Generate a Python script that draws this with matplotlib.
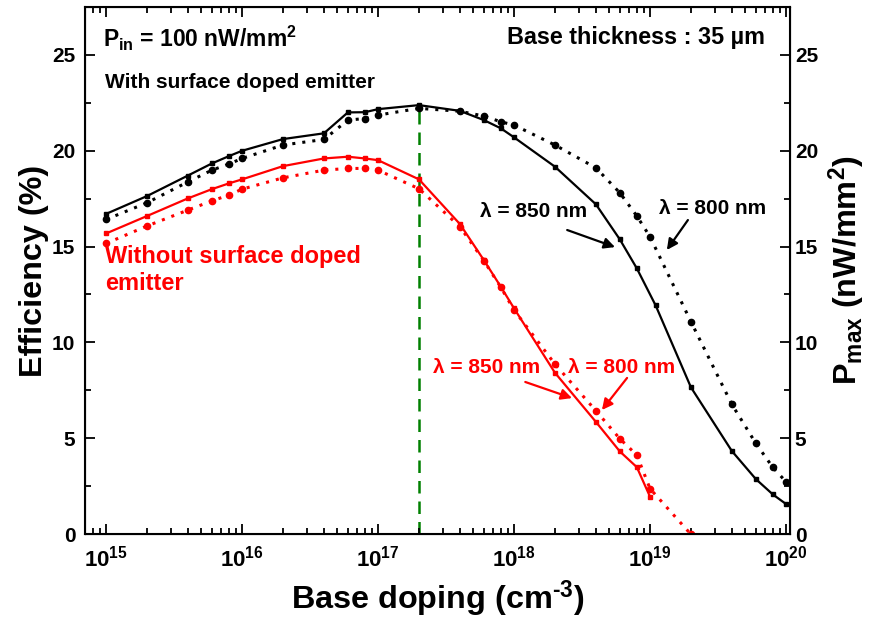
import numpy as np
import matplotlib
matplotlib.use('Agg')
import matplotlib.pyplot as plt
from matplotlib.ticker import MultipleLocator, LogLocator, NullFormatter

plt.rcParams['font.family'] = ['Liberation Sans', 'DejaVu Sans']
plt.rcParams['font.weight'] = 'bold'
plt.rcParams['mathtext.fontset'] = 'custom'
plt.rcParams['mathtext.rm'] = 'Liberation Sans:bold'
plt.rcParams['mathtext.it'] = 'Liberation Sans:bold'
plt.rcParams['mathtext.bf'] = 'Liberation Sans:bold'

# dopage de base (cm-3)
doping = [1e15, 2e15, 4e15, 6e15, 8e15, 1e16, 2e16, 4e16, 6e16, 8e16, 1e17, 2e17,
          4e17, 6e17, 8e17, 1e18, 2e18, 4e18, 6e18, 8e18, 1e19, 2e19, 4e19, 6e19,
          8e19, 1e20]
# la courbe 850 nm (avec) a son point vers 1.1e19
doping_850_with = [1e15, 2e15, 4e15, 6e15, 8e15, 1e16, 2e16, 4e16, 6e16, 8e16, 1e17, 2e17,
                   4e17, 6e17, 8e17, 1e18, 2e18, 4e18, 6e18, 8e18, 1.1e19, 2e19, 4e19, 6e19,
                   8e19, 1e20]

# avec emetteur dope en surface
eff_850_with = [16.7, 17.63, 18.7, 19.33, 19.71, 19.99, 20.6, 20.9, 21.99, 22.0, 22.16, 22.37,
                22.07, 21.59, 21.16, 20.69, 19.16, 17.2, 15.37, 13.86, 11.93, 7.66, 4.34, 2.88,
                2.08, 1.58]
eff_800_with = [16.41, 17.28, 18.37, 18.98, 19.3, 19.59, 20.29, 20.58, 21.59, 21.67, 21.85, 22.2,
                22.05, 21.8, 21.5, 21.33, 20.29, 19.1, 17.8, 16.59, 15.51, 11.08, 6.77, 4.74,
                3.49, 2.74]

# sans emetteur dope en surface
eff_850_without = [15.68, 16.59, 17.51, 17.99, 18.29, 18.5, 19.19, 19.59, 19.68, 19.59, 19.5, 18.5,
                   16.17, 14.29, 12.9, 11.78, 8.42, 5.86, 4.32, 3.5, 1.96]
eff_800_without = [15.16, 16.07, 16.9, 17.38, 17.68, 17.99, 18.58, 18.98, 19.07, 19.07, 18.98, 18.01,
                   16.03, 14.26, 12.87, 11.69, 8.87, 6.44, 4.98, 4.13, 2.38, 0.0]

x_ticks = [1e15, 1e16, 1e17, 1e18, 1e19, 1e20]
x_tick_labels = ['$10^{15}$', '$10^{16}$', '$10^{17}$', '$10^{18}$', '$10^{19}$', '$10^{20}$']
y_ticks = [0, 5, 10, 15, 20, 25]
idx_pic = 11  # 2e17

fig = plt.figure(figsize=(8.81, 6.19), dpi=100)
ax = fig.add_axes([0.0965, 0.1368, 0.8002, 0.8524])

dot = (0, (1, 2.3))
ax.plot(doping_850_with, eff_850_with, color='black', lw=1.6, marker='s', ms=3.2)
ax.plot(doping, eff_800_with, color='black', lw=2.2, ls=dot, marker='o', ms=4.5)
ax.plot(doping[:len(eff_850_without)], eff_850_without, color='red', lw=1.6, marker='s', ms=3.2)
ax.plot(doping[:len(eff_800_without)], eff_800_without, color='red', lw=2.2, ls=dot, marker='o', ms=4.5)

ax.vlines(doping[idx_pic], 0, eff_850_with[idx_pic], color='#008000', lw=1.8,
          linestyles=(0, (5, 3.2)), zorder=1)

ax.set_xscale('log')
ax.set_xlim(7.0e14, 1.07e20)
ax.set_ylim(0, 27.5)
ax.set_xticks(x_ticks)
ax.set_xticklabels(x_tick_labels)
ax.xaxis.set_minor_locator(LogLocator(base=10, subs=np.arange(2, 10), numticks=20))
ax.xaxis.set_minor_formatter(NullFormatter())
ax.set_yticks(y_ticks)
ax.yaxis.set_minor_locator(MultipleLocator(2.5))
ax.tick_params(which='both', direction='in', top=True, right=False, labelsize=15, width=1.3)
ax.tick_params(which='major', length=7)
ax.tick_params(which='minor', length=4)
ax.tick_params(axis='y', pad=7)
ax.tick_params(axis='x', pad=8, labelsize=16)
for s in ax.spines.values():
    s.set_linewidth(1.5)

ax.set_xlabel('Base doping (cm$^{\\text{-}3}$)', fontsize=23.3, fontweight='bold', labelpad=5)
ax.set_ylabel('Efficiency (%)', fontsize=23.3, fontweight='bold', labelpad=2)

ax2 = ax.twinx()
ax2.set_ylim(0, 27.5)
ax2.set_yticks(y_ticks)
ax2.yaxis.set_minor_locator(MultipleLocator(2.5))
ax2.tick_params(which='both', direction='in', labelsize=15, width=1.3)
ax2.tick_params(which='major', length=7)
ax2.tick_params(which='minor', length=4)
ax2.set_ylabel('P$_{max}$ (nW/mm$^2$)', fontsize=23.3, fontweight='bold', labelpad=6)

# textes
ax.text(0.0255, 0.9407, 'P$_{in}$ = 100 nW/mm$^2$', transform=ax.transAxes, fontsize=16.5,
        ha='left', va='center')
ax.text(0.9645, 0.9407, 'Base thickness : 35 \u00b5m', transform=ax.transAxes, fontsize=16.8,
        ha='right', va='center')
ax.text(0.0284, 0.8554, 'With surface doped emitter', transform=ax.transAxes, fontsize=15,
        ha='left', va='center')
ax.text(0.0284, 0.501, 'Without surface doped\nemitter', transform=ax.transAxes, fontsize=17,
        ha='left', va='center', color='red', linespacing=1.2)

# fleches
arr = dict(arrowstyle='-|>', lw=1.6, mutation_scale=16, shrinkA=0, shrinkB=0)
ax.text(1.40e18, 16.8, '\u03bb = 850 nm', fontsize=15, ha='center', va='center')
ax.annotate('', xy=(5.53e18, 14.97), xytext=(2.46e18, 15.86), arrowprops=dict(arr, color='black'))
ax.text(2.86e19, 17.0, '\u03bb = 800 nm', fontsize=15, ha='center', va='center')
ax.annotate('', xy=(1.33e19, 14.82), xytext=(1.90e19, 16.38), arrowprops=dict(arr, color='black'))
ax.text(6.32e17, 8.67, '\u03bb = 850 nm', fontsize=15, ha='center', va='center', color='red')
ax.annotate('', xy=(2.67e18, 7.1), xytext=(1.21e18, 7.94), arrowprops=dict(arr, color='red'))
ax.text(6.22e18, 8.67, '\u03bb = 800 nm', fontsize=15, ha='center', va='center', color='red')
ax.annotate('', xy=(4.43e18, 6.48), xytext=(6.78e18, 8.15), arrowprops=dict(arr, color='red'))

fig.savefig('out.png', dpi=100)
